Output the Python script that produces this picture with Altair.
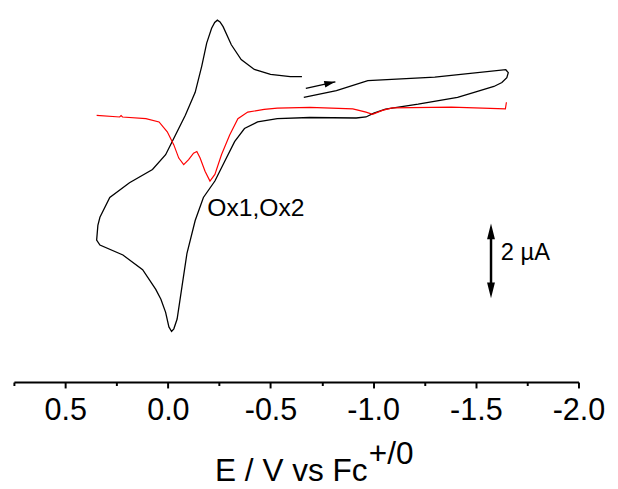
import altair as alt
import pandas as pd

# ---- data (E in V vs Fc+/0, current in uA) ----
cv_e = [-0.662, -0.821, -0.974, -1.300, -1.646, -1.658, -1.651, -1.627, -1.588, -1.492,
        -1.411, -1.219, -1.060, -1.003, -0.965, -0.917, -0.691, -0.533, -0.437, -0.373,
        -0.325, -0.277, -0.229, -0.173, -0.133, -0.093, -0.069, -0.045, -0.029, -0.018,
        -0.005, 0.011, 0.034, 0.059, 0.123, 0.219, 0.331, 0.347, 0.341, 0.331,
        0.283, 0.187, 0.075, 0.011, -0.037, -0.085, -0.133, -0.165, -0.189, -0.213,
        -0.228, -0.241, -0.254, -0.269, -0.309, -0.357, -0.421, -0.500, -0.596, -0.653]
cv_i = [2.790, 2.970, 3.248, 3.342, 3.544, 3.464, 3.329, 3.194, 3.086, 2.925,
        2.790, 2.601, 2.466, 2.358, 2.251, 2.224, 2.237, 2.205, 2.116, 1.935,
        1.577, 1.038, 0.499, 0.049, -0.580, -1.477, -2.377, -3.275, -3.544, -3.617,
        -3.491, -3.094, -2.736, -2.466, -1.927, -1.523, -1.253, -1.119, -0.714, -0.491,
        0.049, 0.453, 0.814, 1.218, 1.757, 2.296, 2.925, 3.644, 4.272, 4.677,
        4.838, 4.900, 4.852, 4.722, 4.226, 3.822, 3.553, 3.418, 3.356, 3.356]

dpv_e = [0.347, 0.235, 0.228, 0.221, 0.107, 0.043, 0.003, -0.029, -0.053, -0.077,
         -0.101, -0.125, -0.141, -0.157, -0.181, -0.205, -0.229, -0.261, -0.301, -0.341,
         -0.389, -0.469, -0.533, -0.692, -0.901, -0.965, -0.997, -1.045, -1.093, -1.381,
         -1.644, -1.649]
dpv_i = [2.296, 2.251, 2.291, 2.251, 2.205, 2.116, 1.846, 1.488, 1.127, 0.949,
         1.084, 1.261, 1.307, 1.127, 0.768, 0.499, 0.679, 1.218, 1.757, 2.205,
         2.385, 2.458, 2.493, 2.512, 2.474, 2.385, 2.323, 2.431, 2.501, 2.520,
         2.474, 2.655]

tick_values = [0.75, 0.5, 0.25, 0.0, -0.25, -0.5, -0.75, -1.0, -1.25, -1.5, -1.75, -2.0]

# annotations
scan_arrow = {"e": [-0.672], "i": [3.032], "e2": [-0.816], "i2": [3.213]}
scan_head = {"e": [-0.789], "i": [3.181]}
bar_line = {"e": [-1.574], "i": [-0.876], "i2": [-2.493]}
bar_top = {"e": [-1.574], "i": [-0.876]}
bar_bot = {"e": [-1.574], "i": [-2.493]}
label_ox = {"e": [-0.192], "i": [-0.445], "t": ["Ox1,Ox2"]}
label_ua = {"e": [-1.622], "i": [-1.658], "t": ["2 \u00b5A"]}
label_sup = {"e": [-0.979], "i": [-7.238], "t": ["+/0"]}

FONT = "Liberation Sans"

cv = pd.DataFrame({"E": cv_e, "I": cv_i, "k": list(range(len(cv_e)))})
dpv = pd.DataFrame({"E": dpv_e, "I": dpv_i, "k": list(range(len(dpv_e)))})

xs = alt.Scale(domain=[-2.0, 0.75], reverse=True, nice=False, zero=False)
ys = alt.Scale(domain=[-5, 5], nice=False, zero=False)

major = "abs(datum.value*2 - round(datum.value*2)) < 0.001"
x_axis = alt.Axis(
    values=tick_values,
    title="E / V vs Fc",
    labelExpr=f"{major} ? (datum.value < 0 ? '-' : '') + format(abs(datum.value), '.1f') : ''",
    tickSize={"condition": {"test": major, "value": 6}, "value": 3.5},
    labelPadding=8,
    labelFont=FONT, labelFontSize=31, labelColor="black",
    titleFont=FONT, titleFontSize=32, titleFontWeight="normal", titleColor="black",
    titleBaseline="alphabetic", titleY=100, titleX=281,
    domainColor="black", domainWidth=2, tickColor="black", tickWidth=2,
    grid=False, labelFlush=False, labelOverlap=False,
)

X = alt.X("E:Q", scale=xs, axis=x_axis)
Y = alt.Y("I:Q", scale=ys, axis=None)

cv_line = alt.Chart(cv).mark_line(color="black", strokeWidth=1.3).encode(
    x=X, y=Y, order="k:Q")
dpv_line = alt.Chart(dpv).mark_line(color="#ff0000", strokeWidth=1.2).encode(
    x=alt.X("E:Q", scale=xs), y=alt.Y("I:Q", scale=ys), order="k:Q")

ex = lambda f="e": alt.X(f"{f}:Q", scale=xs)
iy = lambda f="i": alt.Y(f"{f}:Q", scale=ys)

arrow_line = alt.Chart(pd.DataFrame(scan_arrow)).mark_rule(color="black", strokeWidth=1.3).encode(
    x=ex(), y=iy(), x2="e2:Q", y2="i2:Q")
head_shape = "M0,-1L0.6,1L-0.6,1Z"
arrow_head = alt.Chart(pd.DataFrame(scan_head)).mark_point(
    shape=head_shape, filled=True, color="black", size=121, angle=77, opacity=1).encode(x=ex(), y=iy())

bar_shape = "M0,-1L0.5,1L-0.5,1Z"
bar = alt.Chart(pd.DataFrame(bar_line)).mark_rule(color="black", strokeWidth=2.5).encode(
    x=ex(), y=iy(), y2="i2:Q")
bar_t = alt.Chart(pd.DataFrame(bar_top)).mark_point(
    shape=bar_shape, filled=True, color="black", size=256, angle=0, opacity=1).encode(x=ex(), y=iy())
bar_b = alt.Chart(pd.DataFrame(bar_bot)).mark_point(
    shape=bar_shape, filled=True, color="black", size=256, angle=180, opacity=1).encode(x=ex(), y=iy())

t_ox = alt.Chart(pd.DataFrame(label_ox)).mark_text(
    font=FONT, fontSize=25, align="left", baseline="alphabetic", color="black").encode(
    x=ex(), y=iy(), text="t:N")
t_ua = alt.Chart(pd.DataFrame(label_ua)).mark_text(
    font=FONT, fontSize=24, align="left", baseline="alphabetic", color="black").encode(
    x=ex(), y=iy(), text="t:N")
t_sup = alt.Chart(pd.DataFrame(label_sup)).mark_text(
    font=FONT, fontSize=32, align="left", baseline="alphabetic", color="black").encode(
    x=ex(), y=iy(), text="t:N")

chart = alt.layer(
    cv_line, dpv_line, arrow_line, arrow_head, bar, bar_t, bar_b, t_ox, t_ua, t_sup
).properties(width=573, height=371).configure_view(stroke=None)

chart.save("out.html", embed_options={"renderer": "svg", "actions": False})
